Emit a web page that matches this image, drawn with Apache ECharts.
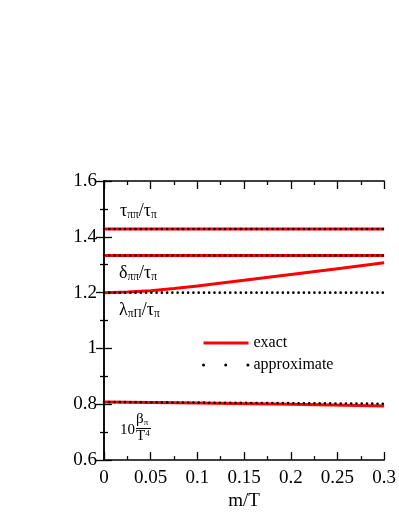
<!DOCTYPE html>
<html>
<head>
<meta charset="utf-8">
<script src="https://cdn.jsdelivr.net/npm/echarts@6/dist/echarts.min.js"></script>
<style>html,body{margin:0;padding:0;background:#fff;}#c{width:399px;height:516px;}</style>
</head>
<body>
<div id="c"></div>
<script>
// x values (m/T)
const xFlat = [0, 0.3];
const xLambda = [0, 0.025, 0.05, 0.075, 0.1, 0.15, 0.2, 0.25, 0.3];
const xBeta = [0, 0.1, 0.2, 0.3];
// exact
const tauExact = [1.428, 1.428];
const deltaExact = [1.333, 1.333];
const lambdaExact = [1.200, 1.202, 1.207, 1.215, 1.224, 1.244, 1.265, 1.286, 1.307];
const betaExact = [0.808, 0.805, 0.800, 0.794];
// approximate
const tauApprox = [1.428, 1.428];
const deltaApprox = [1.333, 1.333];
const lambdaApprox = [1.200, 1.200];
const betaApprox = [0.808, 0.806, 0.804, 0.802];
// ticks
const xTicks = {min: 0, max: 0.3, interval: 0.05};
const yTicks = {min: 0.6, max: 1.6, interval: 0.2};

const FONT = 'Liberation Serif';
const zip = (xs, ys) => xs.map((x, i) => [x, ys[i]]);

const exactStyle = {color: '#ff0000', width: 3};
const approxStyle = {color: '#000', width: 2.6, type: [0.01, 5.25], cap: 'round'};

function exactSeries(xs, ys) {
  return {name: 'exact', type: 'line', data: zip(xs, ys), symbol: 'none', showSymbol: false,
    lineStyle: exactStyle, itemStyle: {color: '#ff0000'}, z: 2, silent: true, animation: false};
}
function approxSeries(xs, ys) {
  return {name: 'approximate', type: 'line', data: zip(xs, ys), symbol: 'none', showSymbol: false,
    lineStyle: approxStyle, itemStyle: {color: '#000'}, z: 3, silent: true, animation: false};
}

const axisCommon = {
  axisLine: {show: true, lineStyle: {color: '#000', width: 1.5}},
  axisTick: {show: true, inside: true, length: 8, lineStyle: {color: '#000', width: 1.3}},
  minorTick: {show: true, splitNumber: 2, length: 4, lineStyle: {color: '#000', width: 1.3}},
  splitLine: {show: false}
};
const labelStyle = {color: '#000', fontFamily: FONT, fontSize: 19};

const chart = echarts.init(document.getElementById('c'), null, {renderer: 'canvas'});

const sub = {fontFamily: FONT, fontSize: 11.5, lineHeight: 12, verticalAlign: 'bottom', color: '#000'};
const main = {fontFamily: FONT, fontSize: 18, lineHeight: 20, color: '#000'};

function label(x, y, text) {
  return {type: 'text', left: x, top: y, silent: true,
    style: {text: text, rich: {m: main, s: sub}, fill: '#000'}};
}

chart.setOption({
  animation: false,
  grid: {left: 104, top: 181, right: 13, bottom: 53, containLabel: false},
  legend: {
    orient: 'vertical', left: 202, top: 335, padding: 0, itemWidth: 45, itemHeight: 14, itemGap: 6,
    textStyle: {color: '#000', fontFamily: FONT, fontSize: 16},
    data: [
      {name: 'exact', itemStyle: {opacity: 0}, lineStyle: {color: '#ff0000', width: 3}},
      {name: 'approximate', itemStyle: {opacity: 0}, lineStyle: {color: '#000', width: 3, type: [0.01, 22.2], cap: 'round'}}
    ],
    selectedMode: false
  },
  xAxis: [
    Object.assign({type: 'value', position: 'bottom', min: xTicks.min, max: xTicks.max, interval: xTicks.interval,
      name: 'm/T', nameLocation: 'middle', nameGap: 29,
      nameTextStyle: {color: '#000', fontFamily: FONT, fontSize: 19},
      axisLabel: Object.assign({margin: 8}, labelStyle)}, axisCommon),
    Object.assign({type: 'value', position: 'top', min: xTicks.min, max: xTicks.max, interval: xTicks.interval,
      axisLabel: {show: false}}, axisCommon)
  ],
  yAxis: [
    Object.assign({type: 'value', position: 'left', min: yTicks.min, max: yTicks.max, interval: yTicks.interval,
      axisLabel: Object.assign({margin: 7}, labelStyle)}, axisCommon),
    Object.assign({type: 'value', position: 'right', min: yTicks.min, max: yTicks.max, interval: yTicks.interval,
      axisLabel: {show: false}}, axisCommon)
  ],
  series: [
    exactSeries(xFlat, tauExact),
    exactSeries(xFlat, deltaExact),
    exactSeries(xLambda, lambdaExact),
    exactSeries(xBeta, betaExact),
    approxSeries(xFlat, tauApprox),
    approxSeries(xFlat, deltaApprox),
    approxSeries(xFlat, lambdaApprox),
    approxSeries(xBeta, betaApprox)
  ],
  graphic: [
    label(120, 202, '{m|τ}{s|ππ}{m|/τ}{s|π}'),
    label(119, 264, '{m|δ}{s|ππ}{m|/τ}{s|π}'),
    label(119, 301, '{m|λ}{s|πΠ}{m|/τ}{s|π}'),
    {type: 'text', left: 120, top: 423, silent: true,
      style: {text: '10', fontFamily: FONT, fontSize: 15, fill: '#000'}},
    {type: 'text', left: 136, top: 412, silent: true,
      style: {text: '{b|β}{s|π}', rich: {b: {fontFamily: FONT, fontSize: 15, lineHeight: 16, color: '#000'},
        s: {fontFamily: FONT, fontSize: 9, lineHeight: 10, verticalAlign: 'bottom', color: '#000'}}}},
    {type: 'line', silent: true, shape: {x1: 136, y1: 428.5, x2: 151, y2: 428.5},
      style: {stroke: '#000', lineWidth: 1}},
    {type: 'text', left: 136, top: 429, silent: true,
      style: {text: '{t|T}{p|4}', rich: {t: {fontFamily: FONT, fontSize: 15, lineHeight: 15, color: '#000'},
        p: {fontFamily: FONT, fontSize: 9, lineHeight: 10, verticalAlign: 'top', color: '#000'}}}}
  ]
});
</script>
</body>
</html>
